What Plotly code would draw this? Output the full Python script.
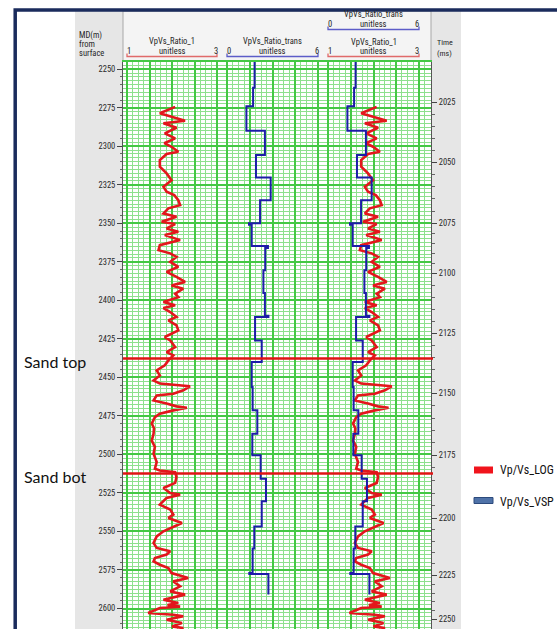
import numpy as np
import plotly.graph_objects as go

W, H = 557, 629

# ---------------- data ----------------
# VpVs_Ratio_1 (log curve): measured depth (m) and Vp/Vs ratio
log_depth = [2274.4, 2278.6, 2283.4, 2285.0, 2288.0, 2291.6, 2294.9, 2298.0, 2300.3, 2303.6,
             2305.0, 2309.0, 2313.3, 2317.6, 2322.0, 2326.3, 2329.5, 2331.7, 2335.0, 2338.2,
             2340.3, 2343.6, 2345.8, 2349.0, 2350.5, 2353.3, 2355.5, 2357.6, 2360.9, 2364.2,
             2367.4, 2369.5, 2371.8, 2375.0, 2378.2, 2381.5, 2384.7, 2388.0, 2390.3, 2392.4,
             2395.7, 2397.9, 2401.0, 2403.2, 2405.0, 2407.6, 2410.8, 2413.0, 2416.2, 2419.5,
             2423.8, 2426.0, 2430.3, 2433.6, 2435.7, 2439.0, 2442.2, 2445.5, 2448.7, 2452.0,
             2454.0, 2455.0, 2455.8, 2458.4, 2460.6, 2461.7, 2465.0, 2467.0, 2468.8, 2469.7,
             2471.4, 2473.6, 2475.8, 2480.0, 2483.0, 2486.6, 2491.0, 2495.2, 2499.5, 2505.0,
             2509.3, 2510.4, 2511.5, 2514.7, 2518.5, 2521.8, 2525.0, 2526.1, 2528.2, 2532.6,
             2535.8, 2539.1, 2541.2, 2544.5, 2547.7, 2549.9, 2553.2, 2557.5, 2560.7, 2562.9,
             2565.0, 2567.2, 2569.4, 2571.6, 2573.7, 2577.0, 2580.2, 2582.4, 2585.6, 2588.9,
             2591.0, 2594.3, 2596.4, 2597.8, 2598.8, 2599.7, 2602.9, 2604.0, 2605.0, 2607.3,
             2609.4, 2611.6, 2612.7, 2614.5]
log_vpvs = [2.07, 1.73, 2.29, 1.81, 2.10, 1.84, 2.07, 1.83, 1.99, 2.14,
            1.88, 1.73, 1.73, 1.88, 1.99, 1.81, 1.88, 2.05, 2.14, 2.18,
            1.92, 1.81, 2.10, 1.77, 2.07, 1.88, 2.14, 1.84, 2.18, 1.73,
            1.70, 1.96, 2.10, 1.96, 2.14, 1.88, 2.10, 2.29, 1.99, 2.25,
            2.07, 2.14, 1.81, 2.07, 1.81, 1.96, 2.10, 1.92, 2.10, 2.14,
            1.84, 1.96, 2.07, 1.88, 2.03, 1.92, 1.84, 1.66, 1.73, 1.59,
            1.73, 2.03, 2.40, 2.25, 2.03, 1.66, 1.59, 1.88, 2.10, 2.33,
            2.03, 1.73, 1.62, 1.55, 1.60, 1.59, 1.55, 1.62, 1.59, 1.66,
            1.62, 1.73, 2.07, 2.10, 2.07, 1.81, 1.96, 2.18, 1.88, 1.73,
            1.96, 2.03, 1.92, 2.22, 1.96, 1.81, 1.66, 1.59, 1.66, 1.96,
            1.88, 1.62, 1.59, 1.73, 1.92, 1.99, 2.36, 2.03, 2.18, 1.96,
            2.29, 1.81, 2.14, 1.90, 2.18, 1.73, 1.47, 2.03, 2.25, 1.88,
            2.22, 2.00, 2.25, 2.10]

# VpVs_Ratio_trans (blocked VSP curve): top depth of each block and its value
vsp_top = [2245.3, 2262.0, 2274.0, 2290.0, 2305.7, 2320.2, 2335.0, 2350.0, 2351.0, 2364.8,
           2366.0, 2380.4, 2395.3, 2410.0, 2410.8, 2426.0, 2440.0, 2456.3, 2471.4, 2486.6,
           2500.6, 2515.8, 2530.4, 2546.7, 2561.0, 2577.0, 2577.6]
vsp_val = [1.82, 1.72, 1.28, 2.50, 1.91, 2.88, 2.18, 1.45, 1.63, 2.70,
           2.52, 2.40, 2.50, 2.73, 1.85, 2.29, 1.63, 1.69, 2.00, 1.67,
           2.22, 2.57, 2.29, 1.80, 1.69, 1.47, 2.73]
vsp_base = 2590.9

# Horizons
horizon_names = ["Sand top", "Sand bot"]
horizon_depth = [2437.7, 2512.4]

# Depth axis labels (m) and two-way time labels (ms) with their depths
depth_ticks = list(range(2250, 2601, 25))
time_labels = [2025, 2050, 2075, 2100, 2125, 2150, 2175, 2200, 2225, 2250]
time_depth = [2271.3, 2310.3, 2350.0, 2382.4, 2421.3, 2460.3, 2500.6, 2541.5, 2578.5, 2607.1]

legend_names = ["Vp/Vs_LOG", "Vp/Vs_VSP"]

# ---------------- layout helpers ----------------
def fx(px):
    return px / W

def fy(py):
    return 1 - py / H

DEPTH_RANGE = [2613.3, 2245.3]
GRID_TOP = 62

RED = "#e3161c"
BLUE = "#1c1ca8"
MAJ = "#44c844"
MIN = "#8ee08e"
NARROW = "Liberation Sans Narrow, Arial Narrow, Roboto Condensed, DejaVu Sans Condensed, sans-serif"


def track_axis(d0, d1, s0, s1, v0, v1, grid=True, overlay=None):
    k = (v1 - v0) / (s1 - s0)
    rng = [v0 - (s0 - d0) * k, v1 + (d1 - s1) * k]
    ax = dict(domain=[fx(d0), fx(d1)], range=rng, anchor="y", showticklabels=False,
              ticks="", zeroline=False, fixedrange=True)
    if grid:
        ax.update(showgrid=True, gridcolor=MAJ, gridwidth=1.8, tick0=v0, dtick=(v1 - v0) / 4,
                  minor=dict(tick0=v0, dtick=(v1 - v0) / 16, showgrid=True,
                             gridcolor=MIN, gridwidth=1),
                  showline=True, linecolor=MAJ, linewidth=2, mirror=True)
    else:
        ax.update(showgrid=False, showline=False, overlaying=overlay)
    return ax


# track pixel extents: (domain left, domain right, scale left, scale right)
T1 = (123, 222, 127, 217)
T2 = (222, 323, 227, 318)
T3 = (323, 431, 328, 419)

fig = go.Figure()

# VSP step data for "vh" stepping
vsp_d = list(vsp_top) + [vsp_base]
vsp_v = list(vsp_val) + [vsp_val[-1]]

fig.add_trace(go.Scatter(x=log_vpvs, y=log_depth, mode="lines", xaxis="x", yaxis="y",
                         line=dict(color=RED, width=2.6), showlegend=False))
fig.add_trace(go.Scatter(x=vsp_v, y=vsp_d, mode="lines", xaxis="x2", yaxis="y",
                         line=dict(color=BLUE, width=2, shape="vh"), showlegend=False))
fig.add_trace(go.Scatter(x=log_vpvs, y=log_depth, mode="lines", xaxis="x3", yaxis="y",
                         line=dict(color=RED, width=2.6), showlegend=False))
fig.add_trace(go.Scatter(x=vsp_v, y=vsp_d, mode="lines", xaxis="x4", yaxis="y",
                         line=dict(color=BLUE, width=2, shape="vh"), showlegend=False))
# carriers for the time axis and the depth minor ticks
fig.add_trace(go.Scatter(x=[None], y=[None], xaxis="x3", yaxis="y2", showlegend=False,
                         hoverinfo="skip"))
fig.add_trace(go.Scatter(x=[None], y=[None], xaxis="x", yaxis="y3", showlegend=False,
                         hoverinfo="skip"))

minor_time = [t for t in range(2025, 2251, 5) if t not in time_labels]
minor_time_depth = list(np.interp(minor_time, time_labels, time_depth))
minor_depth = [d for d in np.arange(2250, 2614, 5) if d % 25 != 0]

tickfont = dict(family=NARROW, size=8.5, color="#2a2a2a")

fig.update_layout(
    width=W, height=H, margin=dict(l=0, r=0, t=0, b=0),
    paper_bgcolor="white", plot_bgcolor="white",
    xaxis=track_axis(*T1, 1, 3),
    xaxis2=track_axis(*T2, 0, 6),
    xaxis3=track_axis(*T3, 1, 3),
    xaxis4=track_axis(*T3, 0, 6, grid=False, overlay="x3"),
    yaxis=dict(domain=[0, fy(GRID_TOP)], range=DEPTH_RANGE, anchor="x",
               tickvals=depth_ticks, ticks="outside", ticklen=5, tickcolor="#444",
               tickfont=tickfont, showgrid=True, gridcolor=MAJ, gridwidth=2,
               minor=dict(tick0=2250, dtick=2.5, showgrid=True, gridcolor=MIN, gridwidth=1,
                          ticks=""),
               showline=True, linecolor="#555", linewidth=1, zeroline=False, fixedrange=True),
    yaxis2=dict(overlaying="y", anchor="x3", side="right", range=DEPTH_RANGE,
                tickvals=time_depth, ticktext=[str(t) for t in time_labels],
                ticks="outside", ticklen=5, tickcolor="#444", tickfont=tickfont,
                minor=dict(tickvals=minor_time_depth, ticks="outside", ticklen=2.5,
                           tickcolor="#666"),
                showgrid=False, showline=True, linecolor="#555", linewidth=1,
                zeroline=False, fixedrange=True),
    yaxis3=dict(overlaying="y", anchor="x", side="left", range=DEPTH_RANGE,
                tickvals=minor_depth, ticks="outside", ticklen=2.5, tickcolor="#666",
                showticklabels=False, showgrid=False, showline=False, zeroline=False),
)

shapes = []
# grey panel and header box
shapes.append(dict(type="rect", xref="paper", yref="paper", x0=fx(75), x1=fx(461),
                   y0=fy(640), y1=fy(11), fillcolor="#e6e6e6", line=dict(width=0),
                   layer="below"))
shapes.append(dict(type="rect", xref="paper", yref="paper", x0=fx(123), x1=fx(431),
                   y0=fy(GRID_TOP), y1=fy(11), fillcolor="#f4f4f4",
                   line=dict(color="#a8a8a8", width=1), layer="below"))
# white backdrop of the track area
shapes.append(dict(type="rect", xref="paper", yref="paper", x0=fx(123), x1=fx(431),
                   y0=fy(640), y1=fy(GRID_TOP), fillcolor="white", line=dict(width=0),
                   layer="below"))


def scale_bar(s0, s1, py, color):
    path = (f"M {fx(s0)},{fy(py - 3)} L {fx(s0)},{fy(py)} L {fx(s1)},{fy(py)} "
            f"L {fx(s1)},{fy(py - 3)}")
    return dict(type="path", xref="paper", yref="paper", path=path,
                line=dict(color=color, width=1.3))


shapes.append(scale_bar(T1[2], T1[3], 56.5, "#e06a6a"))
shapes.append(scale_bar(T2[2], T2[3], 56.5, "#5c5cc8"))
shapes.append(scale_bar(T3[2], T3[3], 56.5, "#e06a6a"))
shapes.append(scale_bar(T3[2], T3[3], 29.5, "#5c5cc8"))

# horizons across all tracks
for d in horizon_depth:
    shapes.append(dict(type="line", xref="paper", yref="y", x0=fx(123), x1=fx(433),
                       y0=d, y1=d, line=dict(color="#e01414", width=2.6), layer="above"))

# legend swatches
shapes.append(dict(type="rect", xref="paper", yref="paper", x0=fx(474), x1=fx(493),
                   y0=fy(473.5), y1=fy(466.5), fillcolor="#f0141c", line=dict(width=0)))
shapes.append(dict(type="rect", xref="paper", yref="paper", x0=fx(474), x1=fx(493),
                   y0=fy(503.5), y1=fy(497.5), fillcolor="#4f72a8",
                   line=dict(color="#2c4a7c", width=1)))

# outer frame
shapes.append(dict(type="rect", xref="paper", yref="paper", x0=fx(15.2), x1=fx(620),
                   y0=fy(700), y1=fy(10), line=dict(color="#1a2b5c", width=3.5),
                   layer="above"))
fig.update_layout(shapes=shapes)

ann = []


def text(s, px, py, size=8.5, anchor="center", family=NARROW, color="#262626"):
    ann.append(dict(text=s, xref="paper", yref="paper", x=fx(px), y=fy(py),
                    xanchor=anchor, yanchor="middle", showarrow=False,
                    font=dict(family=family, size=size, color=color)))


text("MD(m)", 77, 35, anchor="left")
text("from", 77, 44, anchor="left")
text("surface", 77, 53, anchor="left")
text("Time", 435, 42.5, size=8, anchor="left")
text("(ms)", 435, 53.5, size=8, anchor="left")

headers = [("VpVs_Ratio_1", T1, "1", "3", 41.5, 50.5),
           ("VpVs_Ratio_trans", T2, "0", "6", 41.5, 50.5),
           ("VpVs_Ratio_1", T3, "1", "3", 42.5, 51),
           ("VpVs_Ratio_trans", T3, "0", "6", 14.5, 23.5)]
for name, tr, lo, hi, y1, y2 in headers:
    c = (tr[2] + tr[3]) / 2
    text(name, c, y1)
    text("unitless", c, y2)
    text(lo, tr[2] + 1.5, y2)
    text(hi, tr[3] - 1.5, y2)

for name, d in zip(horizon_names, horizon_depth):
    ann.append(dict(text=name, xref="paper", yref="y", x=fx(22), y=d + 1.8,
                    xanchor="left", yanchor="middle", showarrow=False,
                    font=dict(family="Lato, Open Sans, sans-serif", size=16, color="#111")))

text(legend_names[0], 498, 470, size=12, anchor="left", color="#111")
text(legend_names[1], 498, 502, size=12, anchor="left", color="#111")

fig.update_layout(annotations=ann)
fig.write_html("out.html")
